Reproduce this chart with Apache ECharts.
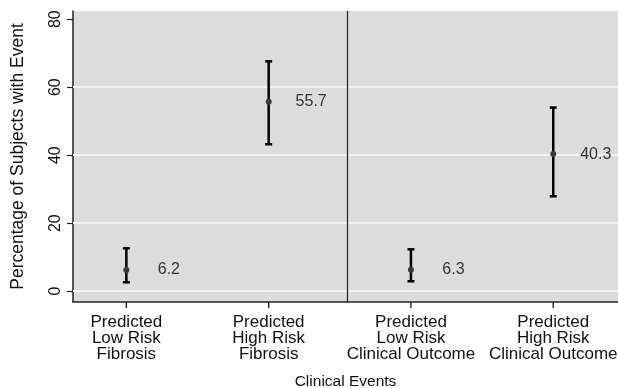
<!DOCTYPE html>
<html>
<head>
<meta charset="utf-8">
<script src="https://cdn.jsdelivr.net/npm/echarts@6/dist/echarts.min.js"></script>
<style>
  html, body { margin: 0; padding: 0; background: #fff; }
  #chart { width: 618px; height: 388px; }
</style>
</head>
<body>
<div id="chart"></div>
<script>
  // groups on the x axis
  var categories = [
    'Predicted\nLow Risk\nFibrosis',
    'Predicted\nHigh Risk\nFibrosis',
    'Predicted\nLow Risk\nClinical Outcome',
    'Predicted\nHigh Risk\nClinical Outcome'
  ];
  var xPositions = [1, 2, 3, 4];
  var means = [6.2, 55.7, 6.3, 40.3];
  var lower = [2.6, 43.2, 2.9, 27.9];
  var upper = [12.6, 67.6, 12.3, 54.0];
  var yTicks = [0, 20, 40, 60, 80];
  var gridValues = [0, 20, 40, 60];
  var yMin = -3.2;
  var dividerX = 2.55;

  var font = '"Liberation Sans", Arial, sans-serif';

  var points = [];
  xPositions.forEach(function (x, i) {
    points.push([x, means[i], lower[i], upper[i]]);
  });

  var chart = echarts.init(document.getElementById('chart'));
  chart.setOption({
    animation: false,
    grid: {
      left: 73, top: 11, right: 0, bottom: 86,
      outerBoundsMode: 'none',
      containLabel: false,
      show: true,
      backgroundColor: '#dcdcdc',
      borderWidth: 0
    },
    xAxis: {
      type: 'value',
      min: 0.625,
      max: 4.455,
      name: 'Clinical Events',
      nameLocation: 'middle',
      nameGap: 72,
      nameTextStyle: { fontFamily: font, fontSize: 15.5, color: '#111' },
      axisLine: { onZero: false, lineStyle: { color: '#222', width: 1.5 } },
      axisTick: { show: false },
      axisLabel: {
        customValues: xPositions,
        formatter: function (v) { return categories[Math.round(v) - 1]; },
        fontFamily: font, fontSize: 17, lineHeight: 16.3, color: '#111', margin: 12
      },
      splitLine: { show: false }
    },
    yAxis: {
      type: 'value',
      min: yMin,
      max: 82.4,
      name: 'Percentage of Subjects with Event',
      nameLocation: 'middle',
      nameGap: 46,
      nameTextStyle: { fontFamily: font, fontSize: 17.5, color: '#111' },
      axisLine: { show: true, onZero: false, lineStyle: { color: '#222', width: 1.5 } },
      axisTick: { show: true, customValues: yTicks, length: 6, lineStyle: { color: '#222', width: 1.2 } },
      axisLabel: {
        customValues: yTicks,
        rotate: 90,
        fontFamily: font, fontSize: 16, color: '#111', margin: 9
      },
      splitLine: { show: false }
    },
    series: [
      {
        // white grid lines and the divider between the two panels
        type: 'line',
        data: [],
        z: 1,
        silent: true,
        markLine: {
          z: 1,
          symbol: 'none',
          silent: true,
          label: { show: false },
          data: gridValues.map(function (v) {
            return { yAxis: v, lineStyle: { color: '#f4f4f4', width: 2, type: 'solid' } };
          }).concat([{ xAxis: dividerX, lineStyle: { color: '#222', width: 1.2, type: 'solid' } }])
        }
      },
      {
        type: 'custom',
        z: 6,
        data: points,
        renderItem: function (params, api) {
          var x = api.coord([api.value(0), 0])[0];
          var yMean = api.coord([0, api.value(1)])[1];
          var yLo = api.coord([0, api.value(2)])[1];
          var yHi = api.coord([0, api.value(3)])[1];
          var cap = 3.5;
          var stroke = { stroke: '#000', lineWidth: 2.5 };
          return {
            type: 'group',
            children: [
              { type: 'line', shape: { x1: x, y1: yLo, x2: x, y2: yHi }, style: stroke },
              { type: 'line', shape: { x1: x - cap, y1: yHi, x2: x + cap, y2: yHi }, style: stroke },
              { type: 'line', shape: { x1: x - cap, y1: yLo, x2: x + cap, y2: yLo }, style: stroke },
              { type: 'circle', shape: { cx: x, cy: yMean, r: 3 }, style: { fill: '#3a3a3a' } },
              {
                type: 'text',
                x: x + 42.5,
                y: yMean,
                style: {
                  text: api.value(1).toFixed(1),
                  fontFamily: font, fontSize: 16, fill: '#333',
                  align: 'center', verticalAlign: 'middle'
                }
              }
            ]
          };
        }
      }
    ]
  });

  // x axis ticks under each group, placed through the axis scale
  var tickMarks = xPositions.map(function (v) {
    var p = chart.convertToPixel({ gridIndex: 0 }, [v, yMin]);
    return {
      type: 'line',
      z: 10,
      silent: true,
      shape: { x1: p[0], y1: p[1], x2: p[0], y2: p[1] + 6 },
      style: { stroke: '#222', lineWidth: 1.4 }
    };
  });
  chart.setOption({ graphic: tickMarks });
</script>
</body>
</html>
